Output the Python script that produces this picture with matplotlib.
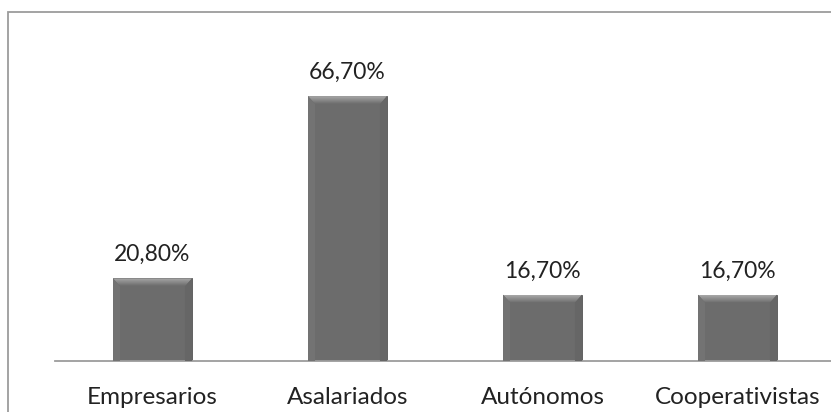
import numpy as np
import matplotlib
matplotlib.use("Agg")
import matplotlib.pyplot as plt
from matplotlib.patches import Polygon, Rectangle

categories = ["Empresarios", "Asalariados", "Autónomos", "Cooperativistas"]
values = [20.8, 66.7, 16.7, 16.7]
value_labels = ["20,80%", "66,70%", "16,70%", "16,70%"]

plt.rcParams['font.family'] = ['Lato', 'DejaVu Sans']

W, H = 831, 412
fig = plt.figure(figsize=(W / 100, H / 100), dpi=100)
fig.patch.set_facecolor("white")

# chart frame (cut at right and bottom like the screenshot)
fig.patches.append(Rectangle((8 / W, -0.1), 1.2, (412 - 12) / H + 0.1,
                             transform=fig.transFigure, fill=False,
                             edgecolor="#9c9c9c", linewidth=1.3, zorder=0))

ax = fig.add_axes([55 / W, 51 / H, 780 / W, 278 / H])
ax.set_facecolor("none")
x = np.arange(len(categories))
bw = 0.405
bars = ax.bar(x, values, width=bw, color="#6c6c6c", edgecolor="#555555",
              linewidth=0.6, zorder=2)

ax.set_xlim(-0.5, 3.5)
ax.set_ylim(0, 70)

# bevel shading on each bar
dx = 7 / 195
dy = 2.0
cm = matplotlib.colors.LinearSegmentedColormap.from_list("bv", ["#6c6c6c", "#a8a8a8"])
for b in bars:
    x0, x1 = b.get_x(), b.get_x() + b.get_width()
    h = b.get_height()
    top = Polygon([(x0, h), (x1, h), (x1 - dx, h - dy), (x0 + dx, h - dy)],
                  closed=True, facecolor="none", edgecolor="none", zorder=3)
    ax.add_patch(top)
    grad = np.linspace(1, 0, 50).reshape(-1, 1)
    im = ax.imshow(grad, cmap=cm, extent=(x0, x1, h - dy, h),
                   aspect="auto", zorder=3, interpolation="bilinear", origin="upper")
    im.set_clip_path(top)
    left = Polygon([(x0, h), (x0 + dx, h - dy), (x0 + dx, 0), (x0, 0)],
                   closed=True, facecolor="#737373", edgecolor="none", zorder=3)
    right = Polygon([(x1, h), (x1 - dx, h - dy), (x1 - dx, 0), (x1, 0)],
                    closed=True, facecolor="#666666", edgecolor="none", zorder=3)
    ax.add_patch(left)
    ax.add_patch(right)

for xi, v, lab in zip(x, values, value_labels):
    ax.annotate(lab, (xi, v), xytext=(0, 17), textcoords="offset points",
                ha="center", va="center", fontsize=16.5, color="#222222")

for s in ["top", "right", "left"]:
    ax.spines[s].set_visible(False)
ax.spines["bottom"].set_color("#9c9c9c")
ax.spines["bottom"].set_linewidth(1.3)
ax.set_yticks([])
ax.set_xticks(x)
ax.set_xticklabels(categories, fontsize=17.5, color="#222222")
ax.tick_params(axis="x", length=0, pad=19)

fig.savefig("out.png", dpi=100)
